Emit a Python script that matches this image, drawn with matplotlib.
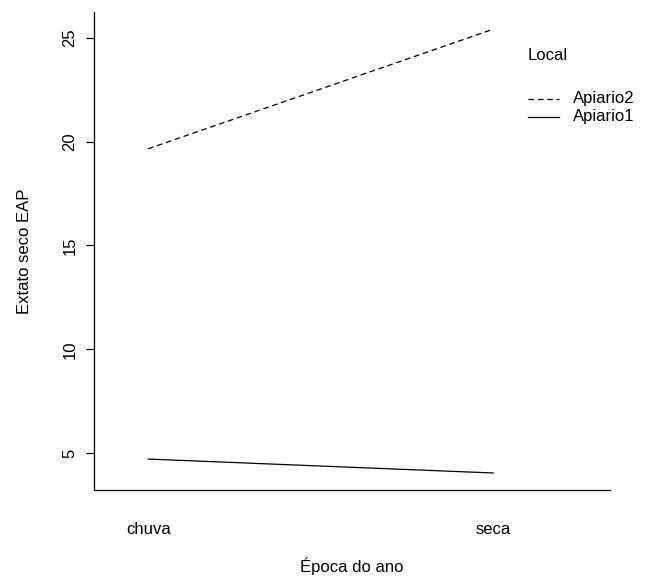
import matplotlib
matplotlib.use("Agg")
import matplotlib.pyplot as plt
from matplotlib.lines import Line2D

plt.rcParams['font.family'] = ['Liberation Sans', 'DejaVu Sans']

categories = ["chuva", "seca"]
apiario2 = [19.66, 25.42]
apiario1 = [4.71, 4.04]
series_names = ["Apiario2", "Apiario1"]
yticks = [5, 10, 15, 20, 25]

W, H = 646, 578
fig = plt.figure(figsize=(W/100, H/100), dpi=100)
ax = fig.add_axes([94/W, 1-490/H, (610-94)/W, (490-12)/H])

x = [1, 2]
fs = 12
ax.plot(x, apiario2, color='black', lw=0.9, linestyle=(0, (4.5, 3)))
ax.plot(x, apiario1, color='black', lw=0.9)

ax.set_xlim(0.843, 2.339)
ax.set_ylim(3.22, 26.25)
for s in ['top', 'right']:
    ax.spines[s].set_visible(False)
for s in ['left', 'bottom']:
    ax.spines[s].set_linewidth(0.9)

ax.set_yticks(yticks)
ax.set_yticklabels([str(v) for v in yticks], rotation=90, va='center', fontsize=fs)
ax.tick_params(axis='y', length=6, width=0.9, pad=6)
ax.set_xticks(x)
ax.set_xticklabels(categories, fontsize=fs)
ax.tick_params(axis='x', length=0, pad=0)
for lbl in ax.get_xticklabels():
    lbl.set_va('center')
    lbl.set_y(-(530-490)/(490-12))

def ax_xy(px, py):
    return ((px-94)/(610-94), (490-py)/(490-12))

ax.set_ylabel("Extato seco EAP", fontsize=fs)
ax.yaxis.set_label_coords(*ax_xy(25, 251))
ax.yaxis.label.set_va('center')
ax.set_xlabel("Época do ano", fontsize=fs)
ax.xaxis.set_label_coords(*ax_xy(352, 566))
ax.xaxis.label.set_va('center')

# legend
tx, ty = ax_xy(528, 55)
ax.text(tx, ty, "Local", transform=ax.transAxes, fontsize=fs, va='center', ha='left')
for name, ls, py in [(series_names[0], (0, (4.5, 3)), 99), (series_names[1], '-', 117)]:
    x0, yy = ax_xy(528, py)
    x1, _ = ax_xy(559, py)
    ax.add_line(Line2D([x0, x1], [yy, yy], transform=ax.transAxes, color='black', lw=0.9, linestyle=ls))
    x2, _ = ax_xy(573, py)
    ax.text(x2, yy, name, transform=ax.transAxes, fontsize=fs, va='center', ha='left')

fig.savefig("out.png", dpi=100)
